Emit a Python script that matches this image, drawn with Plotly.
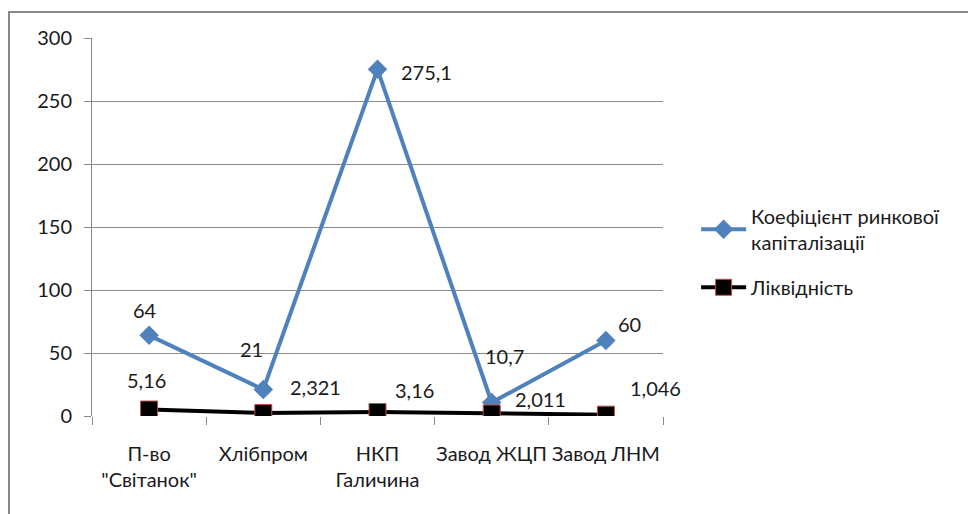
import plotly.graph_objects as go

categories = ["П-во<br>\"Світанок\"", "Хлібпром", "НКП<br>Галичина", "Завод ЖЦП", "Завод ЛНМ"]
cap_ratio = [64, 21, 275.1, 10.7, 60]
liquidity = [5.16, 2.321, 3.16, 2.011, 1.046]
cap_labels = ["64", "21", "275,1", "10,7", "60"]
liq_labels = ["5,16", "2,321", "3,16", "2,011", "1,046"]
y_ticks = [0, 50, 100, 150, 200, 250, 300]

# label offsets (pixels) relative to each point
cap_offsets = [(-4, 25), (-12, 41), (49, -3), (13, 47), (24, 16)]
liq_offsets = [(-3, 30), (52, 26), (37, 22), (49, 14), (50, 27)]

FONT = "Lato, Carlito, Calibri, sans-serif"
TXT = "#1a1a1a"

fig = go.Figure()
fig.add_trace(go.Scatter(
    x=categories, y=cap_ratio, mode="lines+markers",
    name="Коефіцієнт ринкової<br>капіталізації", legendgroup="cap",
    line=dict(color="#4F81BD", width=4),
    marker=dict(symbol="diamond", size=15, color="#4F81BD"),
))
fig.add_trace(go.Scatter(
    x=categories, y=liquidity, mode="lines+markers",
    name="Ліквідність", legendgroup="liq",
    line=dict(color="#000000", width=4),
    marker=dict(symbol="square", size=17, color="#000000",
                line=dict(color="#C0504D", width=1)),
))

for cat, val, lab, (dx, dy) in zip(categories, cap_ratio, cap_labels, cap_offsets):
    fig.add_annotation(x=cat, y=val, text=lab, showarrow=False,
                       xshift=dx, yshift=dy, font=dict(family=FONT, size=20, color=TXT))
for cat, val, lab, (dx, dy) in zip(categories, liquidity, liq_labels, liq_offsets):
    fig.add_annotation(x=cat, y=val, text=lab, showarrow=False,
                       xshift=dx, yshift=dy, font=dict(family=FONT, size=20, color=TXT))

# outer chart frame
fig.add_shape(type="rect", xref="paper", yref="paper",
              x0=-0.1454, y0=-0.5, x1=1.6, y1=1.0688,
              line=dict(color="#878787", width=2), layer="below")

fig.update_layout(
    width=968, height=514,
    margin=dict(l=92, r=305, t=38, b=98, autoexpand=False),
    paper_bgcolor="white", plot_bgcolor="white",
    font=dict(family=FONT, size=20, color=TXT),
    showlegend=True,
    legend=dict(x=1.058, y=0.58, xanchor="left", yanchor="top",
                font=dict(family=FONT, size=20, color=TXT),
                itemwidth=45, tracegroupgap=16, bgcolor="rgba(0,0,0,0)"),
    xaxis=dict(type="category", range=[-0.5, len(categories) - 0.5],
               tickson="boundaries", ticks="outside", ticklen=8,
               tickcolor="#888", showgrid=False, showline=False, zeroline=False,
               tickangle=0, automargin=False,
               ticklabelstandoff=24, tickfont=dict(family=FONT, size=20, color=TXT)),
    yaxis=dict(range=[0, 300], tickvals=y_ticks, showgrid=True, gridcolor="#8c8c8c",
               gridwidth=1, ticks="outside", ticklen=7, tickcolor="#888",
               showline=True, linecolor="#888", linewidth=1, zeroline=False,
               automargin=False,
               ticklabelstandoff=8, tickfont=dict(family=FONT, size=20, color=TXT)),
)

fig.write_html("out.html")
